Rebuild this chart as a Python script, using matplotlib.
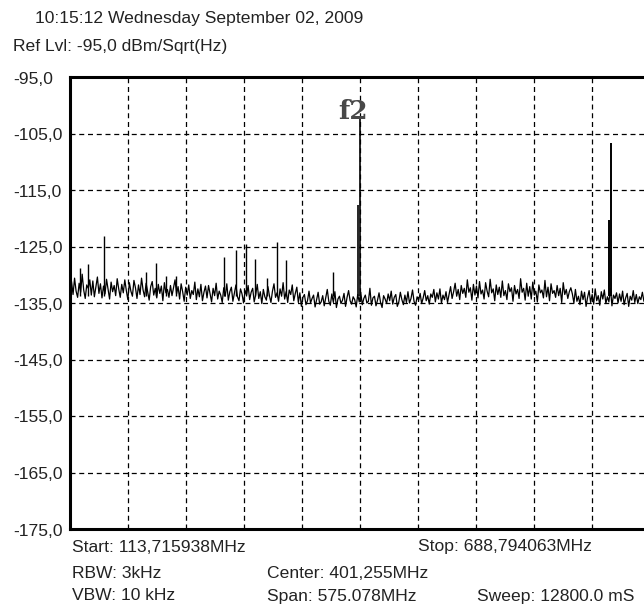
import numpy as np
import matplotlib.pyplot as plt

# Barrido del analizador (MHz) y niveles (dBm/Sqrt(Hz))
f_start = 113.715938
f_stop = 688.794063
ref_lvl = -95.0
y_ticks = [-95.0, -105.0, -115.0, -125.0, -135.0, -145.0, -155.0, -165.0, -175.0]
y_labels = ["-95,0", "-105,0", "-115,0", "-125,0", "-135,0", "-145,0", "-155,0", "-165,0", "-175,0"]

ruido = [
    # 113 - 340 MHz
    -133.8, -131.2, -133.5, -130.6, -132.9, -134.0, -131.5, -133.1, -129.9, -132.7,
    -134.2, -131.8, -132.4, -130.9, -133.6, -131.1, -133.9, -132.2, -130.4, -133.3,
    -131.6, -134.1, -132.0, -133.4, -130.8, -132.6, -134.3, -131.3, -133.0, -131.9,
    -133.7, -130.7, -132.5, -134.0, -131.7, -133.2, -130.9, -132.8, -134.4, -131.4,
    -132.9, -133.8, -131.0, -132.3, -134.2, -131.8, -133.5, -130.6, -132.7, -133.9,
    -131.5, -133.0, -134.5, -132.1, -131.2, -133.6, -132.4, -134.1, -131.7, -133.3,
    -132.0, -134.6, -131.4, -133.2, -132.6, -134.0, -131.9, -133.7, -132.3, -130.9,
    -133.4, -132.1, -134.3, -131.6, -133.0, -134.7, -132.2, -133.6, -131.8, -134.2,
    -132.8, -133.5, -131.3, -134.4, -132.5, -133.9, -131.7, -134.6, -133.1, -132.0,
    -134.1, -131.9, -133.4, -134.8, -132.4, -133.7, -131.5, -134.3, -132.9, -133.6,
    -134.9, -132.3, -133.8, -131.6, -134.5, -133.0, -132.2, -134.7, -133.3, -131.8,
    -133.9, -134.6, -132.5, -133.4, -135.0, -132.8, -133.6, -131.9, -134.4, -133.1,
    -132.4, -134.8, -133.5, -131.7, -134.2, -133.0, -135.1, -132.6, -133.9, -134.5,
    -132.1, -133.7, -134.9, -132.9, -131.6, -134.0, -133.2, -134.7, -132.5, -133.8,
    -131.4, -134.3, -133.0, -134.9, -132.7, -133.5, -131.8, -134.6, -133.3, -132.2,
    # 340 - 490 MHz
    -134.9, -133.2, -135.6, -134.0, -133.5, -135.3, -134.6, -132.9, -135.0, -134.2,
    -133.6, -135.7, -134.4, -133.1, -135.2, -134.8, -133.7, -135.5, -134.1, -132.6,
    -134.7, -135.4, -133.4, -134.9, -133.0, -135.8, -134.3, -133.8, -135.1, -134.5,
    -133.3, -135.6, -134.0, -132.8, -134.6, -135.2, -133.9, -134.4, -135.7, -133.5,
    -134.8, -133.1, -135.3, -134.2, -133.6, -135.0, -134.7, -132.4, -135.4, -134.1,
    -133.8, -135.5, -134.5, -133.2, -134.9, -135.8, -133.7, -134.3, -135.1, -133.4,
    -134.6, -132.9, -135.2, -134.0, -133.5, -135.6, -134.8, -133.1, -134.4, -135.3,
    -133.6, -134.9, -133.0, -135.0, -134.2, -132.7, -134.7, -135.4, -133.9, -134.5,
    -133.3, -135.1, -134.1, -132.8, -134.6, -133.7, -135.2, -133.4, -134.0, -132.6,
    -134.8, -133.2, -134.3, -132.5, -135.0, -133.6, -134.4, -133.0, -134.9, -133.5,
    # 490 - 610 MHz
    -132.1, -134.2, -133.0, -131.5, -133.8, -132.6, -134.4, -131.9, -133.3, -132.4,
    -134.0, -130.9, -133.1, -132.3, -134.5, -131.7, -133.6, -132.0, -134.1, -131.2,
    -133.4, -132.7, -134.3, -131.4, -132.9, -133.9, -130.8, -133.2, -132.5, -134.6,
    -131.8, -133.5, -132.2, -134.0, -131.1, -133.7, -132.8, -134.4, -131.6, -133.0,
    -132.3, -134.7, -131.9, -133.4, -132.6, -134.2, -130.7, -133.1, -132.4, -134.5,
    -131.5, -133.8, -132.1, -134.3, -131.3, -133.6, -132.9, -134.8, -131.8, -133.2,
    -132.7, -134.1, -131.0, -133.9, -132.2, -134.6, -131.6, -133.3, -132.8, -134.0,
    -131.9, -133.7, -132.4, -134.9, -131.4, -133.5, -132.6, -134.2, -133.0, -132.3,
    # 610 - 689 MHz
    -133.4, -135.0, -132.6, -134.7, -133.8, -135.3, -132.9, -134.4, -133.1, -135.6,
    -134.0, -132.8, -134.9, -133.5, -135.2, -132.5, -134.6, -133.7, -135.4, -133.0,
    -134.3, -132.7, -135.1, -133.9, -134.8, -132.4, -135.5, -133.6, -134.2, -133.2,
    -135.0, -133.4, -134.7, -132.9, -135.3, -134.1, -133.3, -135.6, -133.8, -134.5,
    -132.8, -134.9, -133.5, -135.1, -133.9, -134.4, -133.1, -134.7, -133.6, -134.2,
    -133.0, -134.6,
]

# Espurios (frecuencia MHz, nivel dBm)
spur_f = [123.6, 131.6, 147.4, 189.1, 199.0, 208.9, 218.8, 266.4, 278.3, 288.2,
          297.1, 309.0, 318.9, 327.9, 374.5]
spur_lvl = [-128.8, -128.1, -123.1, -129.5, -127.9, -130.3, -130.3, -126.9, -125.6, -124.6,
            -127.2, -130.5, -124.2, -127.4, -129.5]

# Tonos principales
tono_f = [401.3, 399.6, 649.8, 648.4]
tono_lvl = [-102.0, -117.7, -106.6, -120.3]
piso = -133.8

frec = np.linspace(f_start, f_stop, len(ruido))

fig = plt.figure(figsize=(6.44, 6.10), dpi=100)
ax = fig.add_axes([70 / 644, 81 / 610, 580 / 644, 452 / 610])

ax.plot(frec, ruido, color='black', linewidth=0.9)
ax.vlines(spur_f, piso, spur_lvl, color='black', linewidth=1.0)
ax.vlines(tono_f[:2], piso, tono_lvl[:2], color='black', linewidth=1.2)
ax.vlines(tono_f[2:], piso, tono_lvl[2:], color='black', linewidth=1.4)

ax.set_xlim(f_start, f_stop)
ax.set_ylim(-175, ref_lvl)

# Cuadricula punteada
div = (f_stop - f_start) / 10
for k in range(1, 10):
    ax.axvline(f_start + k * div, color='black', linewidth=0.9, linestyle=(0, (4, 3)))
for yv in y_ticks[1:-1]:
    ax.axhline(yv, color='black', linewidth=0.9, linestyle=(0, (4, 3)))

ax.set_xticks([])
ax.set_yticks([])
for s in ['left', 'top', 'bottom']:
    ax.spines[s].set_linewidth(2.2)
ax.spines['right'].set_visible(False)

fuente = dict(family='Liberation Sans', fontsize=12.6, color='#222222')

# Etiquetas del eje y
for yv, lab in zip(y_ticks, y_labels):
    ypx = 79 + (ref_lvl - yv) / 80 * 452
    fig.text(13 / 644, 1 - ypx / 610, lab, va='center', ha='left', **fuente)

# Marcador f2
ax.text(394.5, -103.4, 'f2', ha='center', va='bottom', family='DejaVu Serif',
        fontsize=19, fontweight='bold', color='#484848')

# Textos de cabecera y pie
def t(xp, yp, s):
    fig.text(xp / 644, 1 - yp / 610, s, va='center', ha='left', **fuente)

t(35, 18, "10:15:12 Wednesday September 02, 2009")
t(13, 47, "Ref Lvl: -95,0 dBm/Sqrt(Hz)")
t(72, 547, "Start: 113,715938MHz")
t(418, 547, "Stop: 688,794063MHz")
t(72, 573, "RBW: 3kHz")
t(267, 573, "Center: 401,255MHz")
t(72, 596, "VBW: 10 kHz")
t(267, 596, "Span: 575.078MHz")
t(477, 596, "Sweep: 12800.0 mS")

plt.savefig('out.png', dpi=100)
